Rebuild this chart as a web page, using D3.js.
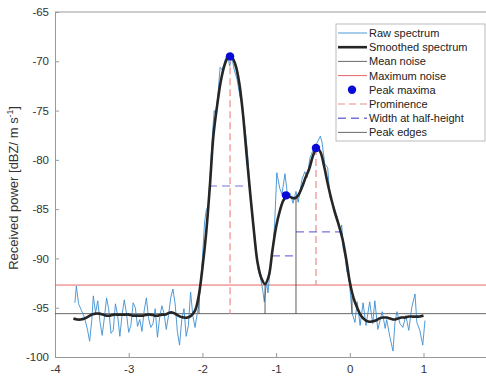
<!DOCTYPE html>
<html>
<head>
<meta charset="utf-8">
<script src="https://cdn.jsdelivr.net/npm/d3@7"></script>
<style>
  body { margin: 0; background: #fff; }
  text { font-family: "Liberation Sans", Arial, sans-serif; }
</style>
</head>
<body>
<div id="chart-area"></div>
<script>
// smoothed spectrum, every 0.05 from -3.75 to 1.0
let smoothX0 = -3.75, smoothStep = 0.05;
let smoothY = [
  -96.1, -96.2, -96.2, -96.1, -95.9, -95.7, -95.6, -95.6, -95.7, -95.8,
  -95.8, -95.7, -95.7, -95.7, -95.7, -95.7, -95.8, -95.8, -95.8, -95.8,
  -95.7, -95.7, -95.8, -95.8, -95.7, -95.7, -95.5, -95.5, -95.7, -95.9,
  -96.0, -96.0, -95.8, -95.3, -93.8, -91.0, -87.5, -82.8, -77.5, -74.5,
  -72.0, -70.4, -69.6, -69.6, -70.4, -72.2, -75.3, -79.5, -83.5, -87.3,
  -90.5, -92.0, -92.6, -91.8, -89.2, -86.8, -85.2, -84.1, -83.7, -83.8,
  -83.9, -83.6, -82.8, -81.8, -80.9, -79.6, -78.8, -79.2, -80.6, -82.4,
  -84.0, -85.4, -86.6, -88.0, -90.0, -92.4, -94.0, -95.0, -95.8, -96.2,
  -96.4, -96.4, -96.3, -96.1, -96.0, -96.0, -96.1, -96.2, -96.1, -96.0,
  -96.0, -95.9, -95.9, -95.9, -95.9, -95.8
];

// raw spectrum [velocity, power]
let raw = [
  [-3.73, -94.5], [-3.71, -92.8], [-3.68, -94.6], [-3.64, -95.3], [-3.60, -96.0],
  [-3.56, -97.2], [-3.53, -98.4], [-3.50, -96.2], [-3.48, -93.8], [-3.45, -95.5],
  [-3.42, -94.3], [-3.39, -96.4], [-3.36, -97.8], [-3.33, -96.0], [-3.30, -94.0],
  [-3.27, -95.2], [-3.24, -97.6], [-3.21, -97.3], [-3.18, -94.6], [-3.15, -95.8],
  [-3.12, -97.9], [-3.09, -95.7], [-3.06, -94.2], [-3.03, -95.6], [-3.00, -97.5],
  [-2.97, -96.8], [-2.94, -94.5], [-2.91, -95.0], [-2.88, -96.9], [-2.85, -96.2],
  [-2.82, -97.4], [-2.79, -95.3], [-2.76, -94.0], [-2.73, -96.1], [-2.70, -97.0],
  [-2.67, -96.6], [-2.64, -95.1], [-2.61, -98.0], [-2.58, -96.0], [-2.55, -94.8],
  [-2.52, -95.6], [-2.49, -97.2], [-2.46, -95.8], [-2.43, -94.0], [-2.40, -93.1],
  [-2.37, -94.6], [-2.34, -97.4], [-2.31, -98.8], [-2.28, -96.2], [-2.25, -95.1],
  [-2.22, -97.9], [-2.19, -96.8], [-2.16, -93.4], [-2.13, -95.8], [-2.10, -97.0],
  [-2.07, -95.6], [-2.05, -94.8], [-2.03, -93.0], [-2.00, -90.0], [-1.97, -86.3],
  [-1.95, -85.2], [-1.92, -84.6], [-1.89, -81.0], [-1.86, -77.0], [-1.84, -75.0],
  [-1.82, -75.4], [-1.79, -73.5], [-1.76, -70.6], [-1.73, -70.9], [-1.69, -69.8],
  [-1.66, -69.2], [-1.63, -70.5], [-1.60, -69.6], [-1.57, -70.8], [-1.53, -71.8],
  [-1.49, -73.6], [-1.46, -74.5], [-1.42, -77.0], [-1.39, -79.0], [-1.36, -82.5],
  [-1.33, -85.5], [-1.30, -87.0], [-1.27, -89.2], [-1.24, -91.2], [-1.21, -92.0],
  [-1.18, -93.3], [-1.16, -94.4], [-1.13, -92.4], [-1.11, -93.5], [-1.08, -91.0],
  [-1.05, -89.5], [-1.02, -86.5], [-0.99, -81.3], [-0.95, -82.9], [-0.92, -83.5],
  [-0.88, -81.4], [-0.84, -83.9], [-0.81, -83.4], [-0.77, -84.4], [-0.73, -83.2],
  [-0.70, -84.3], [-0.65, -82.0], [-0.61, -81.2], [-0.58, -81.8], [-0.54, -79.8],
  [-0.50, -79.0], [-0.445, -78.3], [-0.40, -77.6], [-0.377, -78.2], [-0.34, -80.4],
  [-0.30, -80.8], [-0.27, -83.8], [-0.23, -84.5], [-0.17, -85.8], [-0.13, -87.2],
  [-0.11, -86.6], [-0.09, -89.0], [-0.065, -89.8], [-0.04, -91.3], [-0.01, -92.0],
  [0.03, -95.5], [0.07, -96.5], [0.10, -94.4], [0.14, -96.8], [0.18, -94.5],
  [0.22, -96.8], [0.27, -94.4], [0.31, -96.6], [0.34, -94.3], [0.38, -97.2],
  [0.44, -95.4], [0.48, -97.1], [0.50, -96.2], [0.545, -98.0], [0.586, -99.4],
  [0.613, -96.5], [0.64, -95.4], [0.68, -96.6], [0.72, -97.0], [0.76, -95.8],
  [0.80, -97.3], [0.84, -95.0], [0.885, -93.6], [0.91, -96.5], [0.95, -97.3],
  [0.99, -98.8], [1.02, -96.3]
];

let meanNoise = -95.6;
let maxNoise = -92.7;

let peakX = [-1.625, -0.866, -0.459];
let peakY = [-69.5, -83.6, -78.8];
let promBase = [-95.6, -83.9, -92.7];
let halfY = [-82.65, -89.75, -87.3];
let halfFrom = [-1.91, -1.056, -0.73];
let halfTo = [-1.368, -0.73, -0.106];
let edgeX = [-2.046, -1.15, -0.73, 0.03];
let edgeTop = [-94.0, -92.6, -83.9, -93.8];

let xTicks = [-4, -3, -2, -1, 0, 1];
let yTicks = [-100, -95, -90, -85, -80, -75, -70, -65];

let width = 486, height = 379;
let mLeft = 55, mTop = 12, mBottom = 357;

let svg = d3.select("#chart-area").append("svg").attr("width", width).attr("height", height);

let x = d3.scaleLinear().domain([-4, 2]).range([mLeft, mLeft + 6 * 73.7]);
let y = d3.scaleLinear().domain([-100, -65]).range([mBottom, mTop]);

// axes
let xAxis = svg.append("g").attr("transform", `translate(0,${mBottom})`)
  .call(d3.axisBottom(x).tickValues(xTicks).tickFormat(d => String(d))
    .tickSizeInner(-4).tickSizeOuter(0).tickPadding(8));
let yAxis = svg.append("g").attr("transform", `translate(${mLeft},0)`)
  .call(d3.axisLeft(y).tickValues(yTicks).tickFormat(d => String(d))
    .tickSizeInner(-4).tickSizeOuter(0).tickPadding(6));
[xAxis, yAxis].forEach(a => {
  a.select(".domain").attr("stroke", "#999");
  a.selectAll(".tick line").attr("stroke", "#999");
  a.selectAll(".tick text").attr("fill", "#333").style("font-size", "11.5px")
    .style("font-family", "'Liberation Sans', Arial, sans-serif");
});
svg.append("line").attr("x1", mLeft).attr("x2", width).attr("y1", mTop).attr("y2", mTop)
  .attr("stroke", "#999");

let yLabel = svg.append("text")
  .attr("transform", `translate(18,188) rotate(-90)`)
  .attr("text-anchor", "middle").attr("fill", "#333").style("font-size", "13px");
yLabel.append("tspan").text("Received power [dBZ/ m s");
yLabel.append("tspan").attr("dy", -5).style("font-size", "8.5px").text("-1");
yLabel.append("tspan").attr("dy", 5).text("]");

// noise levels
svg.append("line").attr("x1", x(-4)).attr("x2", x(2)).attr("y1", y(meanNoise)).attr("y2", y(meanNoise))
  .attr("stroke", "#444").attr("stroke-width", 0.8);
svg.append("line").attr("x1", x(-4)).attr("x2", x(2)).attr("y1", y(maxNoise)).attr("y2", y(maxNoise))
  .attr("stroke", "#e45454").attr("stroke-width", 0.9);

// raw spectrum
let rawLine = d3.line().x(d => x(d[0])).y(d => y(d[1]));
svg.append("path").datum(raw).attr("d", rawLine)
  .attr("fill", "none").attr("stroke", "#3d8fd1").attr("stroke-width", 0.9);

// prominence
peakX.forEach((px, i) => {
  svg.append("line").attr("x1", x(px)).attr("x2", x(px)).attr("y1", y(peakY[i])).attr("y2", y(promBase[i]))
    .attr("stroke", "#f08a8a").attr("stroke-width", 1.2).attr("stroke-dasharray", "7,4");
});

// width at half height
halfY.forEach((hy, i) => {
  svg.append("line").attr("x1", x(halfFrom[i])).attr("x2", x(halfTo[i])).attr("y1", y(hy)).attr("y2", y(hy))
    .attr("stroke", "#7474de").attr("stroke-width", 1.2).attr("stroke-dasharray", "8,5");
});

// peak edges
edgeX.forEach((ex, i) => {
  svg.append("line").attr("x1", x(ex)).attr("x2", x(ex)).attr("y1", y(meanNoise)).attr("y2", y(edgeTop[i]))
    .attr("stroke", "#333").attr("stroke-width", 0.8);
});

// smoothed spectrum
let smoothLine = d3.line().curve(d3.curveCatmullRom)
  .x((d, i) => x(smoothX0 + i * smoothStep)).y(d => y(d));
svg.append("path").datum(smoothY).attr("d", smoothLine)
  .attr("fill", "none").attr("stroke", "#262626").attr("stroke-width", 2.6);

// peak maxima
svg.selectAll("circle.peak").data(peakX).enter()
  .append("circle").attr("class", "peak")
    .attr("cx", d => x(d))
    .attr("cy", (d, i) => y(peakY[i]))
    .attr("r", 4.2)
    .attr("fill", "#0a0ad6");

// legend
let legendItems = ["Raw spectrum", "Smoothed spectrum", "Mean noise", "Maximum noise",
  "Peak maxima", "Prominence", "Width at half-height", "Peak edges"];
let legendStyles = [
  ["#3d8fd1", 0.9, null], ["#262626", 2.6, null], ["#444", 0.8, null], ["#e45454", 0.9, null],
  null, ["#f08a8a", 1.2, "7,4"], ["#7474de", 1.5, "8,5"], ["#444", 0.8, null]
];
let lg = svg.append("g");
lg.append("rect").attr("x", 336).attr("y", 24).attr("width", 149).attr("height", 117)
  .attr("fill", "#fff").attr("stroke", "#aaa").attr("stroke-width", 0.8);
legendItems.forEach((name, i) => {
  let ly = 33 + i * 14.2;
  if (i === 4) {
    lg.append("circle").attr("cx", 352).attr("cy", ly).attr("r", 4.2).attr("fill", "#0a0ad6");
  } else {
    let s = legendStyles[i];
    lg.append("line").attr("x1", 338).attr("x2", 367).attr("y1", ly).attr("y2", ly)
      .attr("stroke", s[0]).attr("stroke-width", s[1]).attr("stroke-dasharray", s[2]);
  }
  lg.append("text").attr("x", 369).attr("y", ly + 4).attr("fill", "#222")
    .style("font-size", "11px").text(name);
});
</script>
</body>
</html>
